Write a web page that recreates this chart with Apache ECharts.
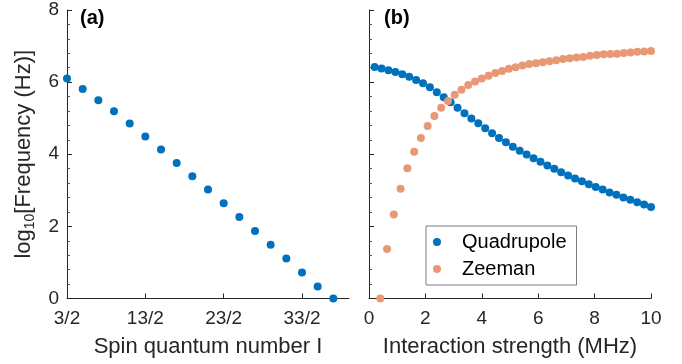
<!DOCTYPE html>
<html>
<head>
<meta charset="utf-8">
<script src="https://cdn.jsdelivr.net/npm/echarts@6/dist/echarts.min.js"></script>
<style>
html, body { margin: 0; padding: 0; background: #fff; }
#chart { width: 682px; height: 364px; }
</style>
</head>
<body>
<div id="chart"></div>
<script>
// panel (a): spin quantum number vs log10 frequency
var spinI = [1.5, 2.5, 3.5, 4.5, 5.5, 6.5, 7.5, 8.5, 9.5, 10.5, 11.5, 12.5, 13.5, 14.5, 15.5, 16.5, 17.5, 18.5];
var spinFreq = [6.1, 5.81, 5.5, 5.19, 4.85, 4.49, 4.13, 3.76, 3.39, 3.02, 2.64, 2.26, 1.87, 1.49, 1.11, 0.72, 0.33, 0.0];
var spinTicks = [1.5, 6.5, 11.5, 16.5];

// panel (b): interaction strength (MHz)
var quadX = [0.2, 0.445, 0.69, 0.935, 1.18, 1.425, 1.67, 1.915, 2.16, 2.405, 2.65, 2.895, 3.14, 3.385, 3.63, 3.875, 4.12, 4.365, 4.61, 4.855,
    5.1, 5.345, 5.59, 5.835, 6.08, 6.325, 6.57, 6.815, 7.06, 7.305, 7.55, 7.795, 8.04, 8.285, 8.53, 8.775, 9.02, 9.265, 9.51, 9.755, 10];
var quadFreq = [6.42, 6.38, 6.33, 6.28, 6.22, 6.15, 6.06, 5.97, 5.86, 5.72, 5.58, 5.44, 5.29, 5.14, 4.99, 4.86, 4.72, 4.58, 4.45, 4.33,
    4.21, 4.10, 3.99, 3.89, 3.79, 3.69, 3.60, 3.50, 3.41, 3.33, 3.25, 3.17, 3.09, 3.02, 2.94, 2.88, 2.80, 2.74, 2.67, 2.61, 2.54];
var zeemanX = [0.4, 0.64, 0.88, 1.12, 1.36, 1.6, 1.84, 2.08, 2.32, 2.56, 2.8, 3.04, 3.28, 3.52, 3.76, 4.0, 4.24, 4.48, 4.72, 4.96,
    5.2, 5.44, 5.68, 5.92, 6.16, 6.4, 6.64, 6.88, 7.12, 7.36, 7.6, 7.84, 8.08, 8.32, 8.56, 8.8, 9.04, 9.28, 9.52, 9.76, 10.0];
var zeemanFreq = [0.0, 1.37, 2.33, 3.04, 3.61, 4.07, 4.45, 4.78, 5.06, 5.29, 5.48, 5.65, 5.79, 5.92, 6.02, 6.10, 6.18, 6.25, 6.31, 6.37,
    6.41, 6.46, 6.50, 6.52, 6.55, 6.58, 6.61, 6.64, 6.66, 6.68, 6.70, 6.73, 6.75, 6.77, 6.78, 6.79, 6.81, 6.82, 6.84, 6.85, 6.86];

var font = "'Liberation Sans', Arial, Helvetica, sans-serif";
var axisColor = '#262626';

function zip(xs, ys) {
    var out = [];
    for (var i = 0; i < xs.length; i++) out.push([xs[i], ys[i]]);
    return out;
}

function yAxisFor(gridIndex, withLabels) {
    return {
        type: 'value', gridIndex: gridIndex, min: 0, max: 8, interval: 2,
        axisLine: {show: true, lineStyle: {color: axisColor, width: 1}},
        axisTick: {show: true, inside: true, length: 5, lineStyle: {color: axisColor}},
        minorTick: {show: true, splitNumber: 5, length: 3, lineStyle: {color: '#555'}},
        axisLabel: {show: withLabels, color: axisColor, fontSize: 19, fontFamily: font, margin: 8},
        splitLine: {show: false}
    };
}

var chart = echarts.init(document.getElementById('chart'), null, {renderer: 'canvas'});

var option = {
    animation: false,
    backgroundColor: '#fff',
    textStyle: {fontFamily: font},
    title: [
        {text: '(a)', left: 75, top: 3, textStyle: {fontSize: 20, fontWeight: 'bold', color: '#000', fontFamily: font}},
        {text: '(b)', left: 379, top: 3, textStyle: {fontSize: 20, fontWeight: 'bold', color: '#000', fontFamily: font}}
    ],
    grid: [
        {left: 67, top: 10, width: 282, height: 288.5},
        {left: 369, top: 10, width: 282, height: 288.5}
    ],
    legend: {
        orient: 'vertical',
        left: 426, top: 226,
        padding: [6, 10, 6, 7],
        itemGap: 7,
        itemWidth: 40, itemHeight: 8,
        borderColor: '#7a7a7a', borderWidth: 1,
        backgroundColor: '#fff',
        icon: 'circle',
        textStyle: {fontSize: 20, lineHeight: 20, color: '#000', fontFamily: font},
        data: ['Quadrupole', 'Zeeman']
    },
    xAxis: [
        {
            type: 'value', gridIndex: 0, min: 1.5, max: 19.5, interval: 5,
            name: 'Spin quantum number I', nameLocation: 'middle', nameGap: 37,
            nameTextStyle: {fontSize: 22, color: axisColor, fontFamily: font},
            axisLine: {show: true, onZero: false, lineStyle: {color: axisColor}},
            axisTick: {show: true, inside: true, length: 5, lineStyle: {color: axisColor}},
            axisLabel: {
                color: axisColor, fontSize: 19, fontFamily: font, margin: 11, showMaxLabel: false,
                formatter: function (v) {
                    return spinTicks.indexOf(v) >= 0 ? (v * 2) + '/2' : '';
                }
            },
            splitLine: {show: false}
        },
        {
            type: 'value', gridIndex: 1, min: 0, max: 10, interval: 2,
            name: 'Interaction strength (MHz)', nameLocation: 'middle', nameGap: 37,
            nameTextStyle: {fontSize: 22, color: axisColor, fontFamily: font},
            axisLine: {show: true, onZero: false, lineStyle: {color: axisColor}},
            axisTick: {show: true, inside: true, length: 5, lineStyle: {color: axisColor}},
            axisLabel: {color: axisColor, fontSize: 19, fontFamily: font, margin: 11},
            splitLine: {show: false}
        }
    ],
    yAxis: [
        Object.assign(yAxisFor(0, true), {
            name: '{a|log}{s|10}{a|[Frequency (Hz)]}', nameLocation: 'middle', nameGap: 30,
            nameTextStyle: {
                color: axisColor,
                rich: {
                    a: {fontSize: 22, lineHeight: 26, color: axisColor, fontFamily: font},
                    s: {fontSize: 14, lineHeight: 14, verticalAlign: 'bottom', color: axisColor, fontFamily: font}
                }
            }
        }),
        yAxisFor(1, false)
    ],
    series: [
        {
            name: 'Spin', type: 'scatter', xAxisIndex: 0, yAxisIndex: 0,
            symbolSize: 8, itemStyle: {color: '#0072BD', opacity: 1},
            data: zip(spinI, spinFreq)
        },
        {
            name: 'Quadrupole', type: 'scatter', xAxisIndex: 1, yAxisIndex: 1,
            symbolSize: 8, itemStyle: {color: '#0072BD', opacity: 1},
            data: zip(quadX, quadFreq)
        },
        {
            name: 'Zeeman', type: 'scatter', xAxisIndex: 1, yAxisIndex: 1,
            symbolSize: 8, itemStyle: {color: '#E89875', opacity: 1},
            data: zip(zeemanX, zeemanFreq)
        }
    ]
};

chart.setOption(option);
</script>
</body>
</html>
